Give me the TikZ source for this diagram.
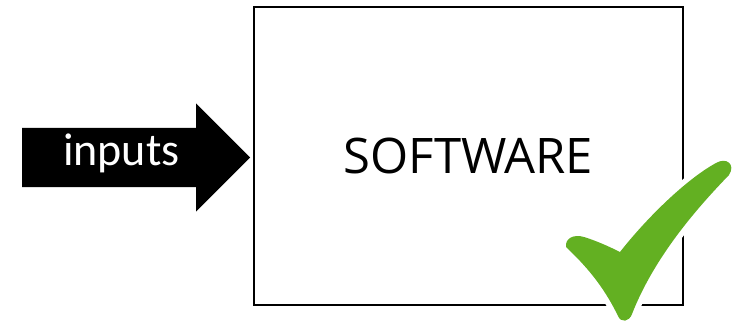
\documentclass[tikz,border=0pt]{standalone}
\usepackage{fontspec}
\usetikzlibrary{shapes.arrows,positioning}
\newfontfamily\swfont{Open Sans}
\newfontfamily\infont{Carlito}
\definecolor{checkgreen}{HTML}{63B022}
\tikzset{
  inarrow/.style={
    single arrow, fill=black, text=white, draw=none,
    single arrow head extend=24.5pt, single arrow head indent=0pt,
    minimum height=228pt, inner ysep=8pt, inner xsep=6pt,
    text height=29pt, text depth=14pt,
    font=\infont\fontsize{46}{50}\selectfont
  },
  swbox/.style={
    rectangle, draw=black, line width=2.8pt, fill=white,
    minimum width=429pt, minimum height=298pt,
    font=\swfont\fontsize{49}{55}\selectfont
  }
}
\newcommand{\checkpath}{
  (566,247) .. controls (565,238) and (574,234) .. (584,237)
  .. controls (597,241) and (610,247) .. (620,252)
  .. controls (645,220) and (685,180) .. (716,163)
  .. controls (726,157) and (736,164) .. (729,175)
  .. controls (700,205) and (655,255) .. (632,314)
  .. controls (629,322) and (621,323) .. (618,316)
  .. controls (603,285) and (585,265) .. (566,247) -- cycle
}
\begin{document}
\begin{tikzpicture}[x=1pt,y=-1pt]
\useasboundingbox (0,0) rectangle (744,324);
\node[swbox] (software) at (468.5,156) {SOFTWARE};
\node[inarrow, anchor=tail] (inputs) at (22,157.5) {inputs};
% check mark with white rim
\draw[white, line width=11pt, line join=round] \checkpath;
\fill[checkgreen] \checkpath;
\end{tikzpicture}
\end{document}
